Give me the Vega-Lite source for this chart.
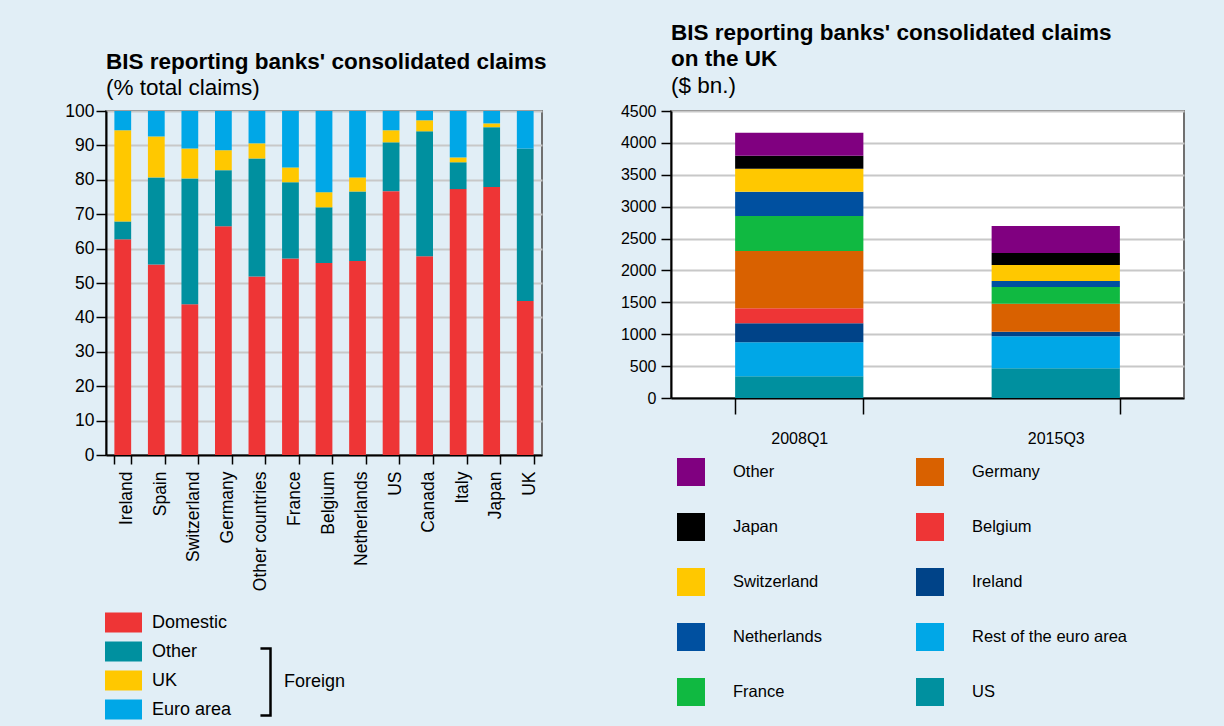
{
  "$schema": "https://vega.github.io/schema/vega-lite/v6.json",
  "background": "#E1EEF6",
  "padding": {"left": 63, "top": 21, "right": 41, "bottom": 10},
  "bounds": "flush",
  "spacing": 129,
  "config": {
    "font": "Liberation Sans",
    "view": {"fill": "white", "stroke": "#707070", "strokeWidth": 2},
    "axis": {"domainColor": "black", "domainWidth": 2, "tickColor": "black", "tickWidth": 1.5, "gridColor": "#C8C8C8", "gridWidth": 2, "labelColor": "black", "labelFont": "Liberation Sans"},
    "legend": {"labelFont": "Liberation Sans", "labelColor": "black", "padding": 0},
    "title": {"font": "Liberation Sans", "fontWeight": "bold", "color": "black", "subtitleFont": "Liberation Sans", "subtitleColor": "black", "subtitleFontWeight": "normal", "frame": "group"}
  },
  "resolve": {"scale": {"color": "independent", "shape": "independent"}, "legend": {"color": "independent", "shape": "independent"}},
  "hconcat": [
    {
      "title": {"text": "BIS reporting banks' consolidated claims", "subtitle": "(% total claims)", "anchor": "start", "frame": "group", "fontSize": 22.5, "subtitleFontSize": 22.5, "subtitlePadding": 3, "offset": 3},
      "width": 436,
      "height": 344,
      "layer": [
        {
          "data": {"values": [
            {"country": "Ireland", "type": "Domestic", "value": 62.7},
            {"country": "Ireland", "type": "Other", "value": 5.2},
            {"country": "Ireland", "type": "UK", "value": 26.5},
            {"country": "Ireland", "type": "Euro area", "value": 5.6},
            {"country": "Spain", "type": "Domestic", "value": 55.4},
            {"country": "Spain", "type": "Other", "value": 25.3},
            {"country": "Spain", "type": "UK", "value": 11.9},
            {"country": "Spain", "type": "Euro area", "value": 7.4},
            {"country": "Switzerland", "type": "Domestic", "value": 43.8},
            {"country": "Switzerland", "type": "Other", "value": 36.6},
            {"country": "Switzerland", "type": "UK", "value": 8.7},
            {"country": "Switzerland", "type": "Euro area", "value": 10.9},
            {"country": "Germany", "type": "Domestic", "value": 66.5},
            {"country": "Germany", "type": "Other", "value": 16.3},
            {"country": "Germany", "type": "UK", "value": 5.8},
            {"country": "Germany", "type": "Euro area", "value": 11.4},
            {"country": "Other countries", "type": "Domestic", "value": 51.9},
            {"country": "Other countries", "type": "Other", "value": 34.3},
            {"country": "Other countries", "type": "UK", "value": 4.4},
            {"country": "Other countries", "type": "Euro area", "value": 9.4},
            {"country": "France", "type": "Domestic", "value": 57.1},
            {"country": "France", "type": "Other", "value": 22.2},
            {"country": "France", "type": "UK", "value": 4.3},
            {"country": "France", "type": "Euro area", "value": 16.4},
            {"country": "Belgium", "type": "Domestic", "value": 55.8},
            {"country": "Belgium", "type": "Other", "value": 16.2},
            {"country": "Belgium", "type": "UK", "value": 4.4},
            {"country": "Belgium", "type": "Euro area", "value": 23.6},
            {"country": "Netherlands", "type": "Domestic", "value": 56.4},
            {"country": "Netherlands", "type": "Other", "value": 20.2},
            {"country": "Netherlands", "type": "UK", "value": 4.1},
            {"country": "Netherlands", "type": "Euro area", "value": 19.3},
            {"country": "US", "type": "Domestic", "value": 76.7},
            {"country": "US", "type": "Other", "value": 14.2},
            {"country": "US", "type": "UK", "value": 3.5},
            {"country": "US", "type": "Euro area", "value": 5.6},
            {"country": "Canada", "type": "Domestic", "value": 57.8},
            {"country": "Canada", "type": "Other", "value": 36.3},
            {"country": "Canada", "type": "UK", "value": 3.2},
            {"country": "Canada", "type": "Euro area", "value": 2.7},
            {"country": "Italy", "type": "Domestic", "value": 77.3},
            {"country": "Italy", "type": "Other", "value": 7.8},
            {"country": "Italy", "type": "UK", "value": 1.4},
            {"country": "Italy", "type": "Euro area", "value": 13.5},
            {"country": "Japan", "type": "Domestic", "value": 77.9},
            {"country": "Japan", "type": "Other", "value": 17.4},
            {"country": "Japan", "type": "UK", "value": 1.1},
            {"country": "Japan", "type": "Euro area", "value": 3.6},
            {"country": "UK", "type": "Domestic", "value": 44.8},
            {"country": "UK", "type": "Other", "value": 44.3},
            {"country": "UK", "type": "UK", "value": 0},
            {"country": "UK", "type": "Euro area", "value": 10.9}
          ]},
          "transform": [{"calculate": "indexof(['Domestic','Other','UK','Euro area'], datum.type)", "as": "stackOrder"}],
          "mark": {"type": "bar"},
          "encoding": {
            "x": {"field": "country", "type": "nominal", "sort": null, "scale": {"paddingInner": 0.5, "paddingOuter": 0.25},
              "axis": {"title": null, "labelAngle": -90, "tickBand": "extent", "tickSize": 9, "labelPadding": 7, "labelFontSize": 17.5, "labelOffset": 4, "grid": false}},
            "y": {"field": "value", "type": "quantitative", "stack": "zero", "scale": {"domain": [0, 100], "nice": false},
              "axis": {"title": null, "values": [0, 10, 20, 30, 40, 50, 60, 70, 80, 90, 100], "format": "d", "grid": true, "labelFontSize": 17.5, "tickSize": 10, "labelPadding": 2}},
            "color": {"field": "type", "type": "nominal",
              "scale": {"domain": ["Domestic", "Other", "UK", "Euro area"], "range": ["#EE3536", "#00909F", "#FFC800", "#00A7E7"]},
              "legend": {"orient": "none", "legendX": -1, "legendY": 493, "title": null, "symbolType": "M-1,-0.54H1V0.54H-1Z", "symbolSize": 1369, "symbolStrokeWidth": 0, "labelFontSize": 18, "labelOffset": 10, "rowPadding": -0.3}},
            "order": {"field": "stackOrder", "type": "quantitative"}
          }
        },
        {
          "data": {"values": [{"group": "Foreign"}]},
          "transform": [{"filter": "false"}],
          "mark": {"type": "point", "color": "black", "filled": false, "strokeWidth": 2.5},
          "encoding": {
            "shape": {"field": "group", "type": "nominal",
              "scale": {"domain": ["Foreign"], "range": ["M0.7,-1H1V1H0.7"]},
              "legend": {"orient": "none", "legendX": 96, "legendY": 536, "title": null, "symbolSize": 4489, "symbolStrokeColor": "black", "symbolFillColor": "transparent", "symbolStrokeWidth": 2.5, "symbolOpacity": 1, "labelFontSize": 18, "labelOffset": 12}}
          }
        }
      ]
    },
    {
      "title": {"text": ["BIS reporting banks' consolidated claims", "on the UK"], "subtitle": "($ bn.)", "anchor": "start", "frame": "group", "fontSize": 22.5, "lineHeight": 26, "subtitleFontSize": 22.5, "subtitlePadding": 4, "offset": 6},
      "width": 513,
      "height": 287,
      "data": {"values": [
        {"period": "2008Q1", "lender": "US", "value": 340},
        {"period": "2008Q1", "lender": "Rest of the euro area", "value": 535},
        {"period": "2008Q1", "lender": "Ireland", "value": 298},
        {"period": "2008Q1", "lender": "Belgium", "value": 236},
        {"period": "2008Q1", "lender": "Germany", "value": 896},
        {"period": "2008Q1", "lender": "France", "value": 550},
        {"period": "2008Q1", "lender": "Netherlands", "value": 377},
        {"period": "2008Q1", "lender": "Switzerland", "value": 361},
        {"period": "2008Q1", "lender": "Japan", "value": 204},
        {"period": "2008Q1", "lender": "Other", "value": 362},
        {"period": "2015Q3", "lender": "US", "value": 466},
        {"period": "2015Q3", "lender": "Rest of the euro area", "value": 503},
        {"period": "2015Q3", "lender": "Ireland", "value": 68},
        {"period": "2015Q3", "lender": "Belgium", "value": 0},
        {"period": "2015Q3", "lender": "Germany", "value": 440},
        {"period": "2015Q3", "lender": "France", "value": 262},
        {"period": "2015Q3", "lender": "Netherlands", "value": 94},
        {"period": "2015Q3", "lender": "Switzerland", "value": 252},
        {"period": "2015Q3", "lender": "Japan", "value": 188},
        {"period": "2015Q3", "lender": "Other", "value": 425}
      ]},
      "transform": [{"calculate": "indexof(['US','Rest of the euro area','Ireland','Belgium','Germany','France','Netherlands','Switzerland','Japan','Other'], datum.lender)", "as": "stackOrder"}],
      "mark": {"type": "bar"},
      "encoding": {
        "x": {"field": "period", "type": "nominal", "sort": null, "scale": {"paddingInner": 0.5, "paddingOuter": 0.25},
          "axis": {"title": null, "labelAngle": 0, "tickBand": "extent", "tickSize": 16, "labelPadding": 16.5, "labelFontSize": 16, "grid": false}},
        "y": {"field": "value", "type": "quantitative", "stack": "zero", "scale": {"domain": [0, 4500], "nice": false},
          "axis": {"title": null, "values": [0, 500, 1000, 1500, 2000, 2500, 3000, 3500, 4000, 4500], "format": "d", "grid": true, "labelFontSize": 16, "tickSize": 10, "labelPadding": 5}},
        "color": {"field": "lender", "type": "nominal",
          "scale": {"domain": ["Other", "Japan", "Switzerland", "Netherlands", "France", "Germany", "Belgium", "Ireland", "Rest of the euro area", "US"],
                    "range": ["#800080", "#000000", "#FFC800", "#0050A0", "#10B941", "#D96100", "#EE3536", "#004388", "#00A7E7", "#00909F"]},
          "legend": {"orient": "none", "legendX": 6, "legendY": 347, "columns": 2, "title": null, "symbolType": "square", "symbolSize": 784, "symbolStrokeWidth": 0, "labelFontSize": 16.5, "labelOffset": 28, "rowPadding": 27, "columnPadding": 94}},
        "order": {"field": "stackOrder", "type": "quantitative"}
      }
    }
  ]
}
